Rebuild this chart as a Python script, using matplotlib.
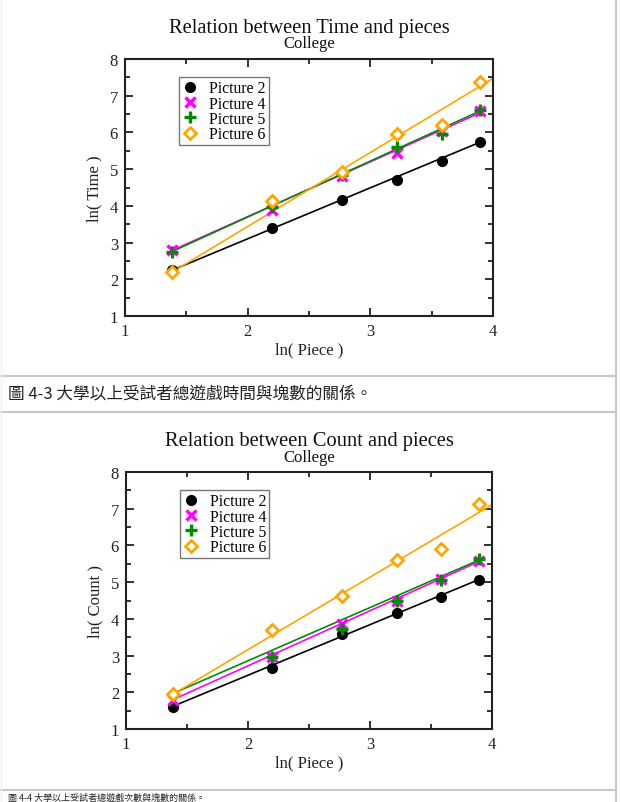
import numpy as np
import matplotlib
matplotlib.use("Agg")
import matplotlib.pyplot as plt
from matplotlib.lines import Line2D

# ---------------- data ----------------
pieces = [4, 9, 16, 25, 36, 49]
series_names = ["Picture 2", "Picture 4", "Picture 5", "Picture 6"]

time_p2 = [2.25, 3.41, 4.15, 4.71, 5.23, 5.73]
time_p4 = [2.80, 3.89, 4.80, 5.44, 6.03, 6.58]
time_p5 = [2.73, 3.98, 4.85, 5.61, 5.97, 6.60]
time_p6 = [2.20, 4.14, 4.93, 5.95, 6.20, 7.36]

count_p2 = [1.61, 2.67, 3.58, 4.15, 4.59, 5.07]
count_p4 = [1.80, 2.95, 3.87, 4.50, 5.09, 5.58]
count_p5 = [1.95, 2.95, 3.73, 4.50, 5.05, 5.62]
count_p6 = [1.95, 3.70, 4.62, 5.59, 5.91, 7.12]

# fitted lines (values read at start / end of each line)
fit_x_end = [np.log(49), np.log(49), np.log(49), 4.0]
time_fit_start = [2.25, 2.79, 2.76, 2.20]
time_fit_end = [5.73, 6.53, 6.58, 7.47]
count_fit_start = [1.62, 1.80, 1.97, 1.95]
count_fit_end = [5.07, 5.56, 5.60, 7.11]

x_ticks = [1, 2, 3, 4]
y_ticks = [1, 2, 3, 4, 5, 6, 7, 8]

titles = ["Relation between Time and pieces", "Relation between Count and pieces"]
subtitle = "College"
xlabel = "ln( Piece )"
ylabels = ["ln( Time )", "ln( Count )"]
caption1 = "圖 4-3 大學以上受試者總遊戲時間與塊數的關係。"
caption2 = "圖 4-4 大學以上受試者總遊戲次數與塊數的關係。"

# ---------------- style ----------------
W, H = 620, 803
SERIF = "Liberation Serif"
CJK = ["Noto Sans CJK TC", "Liberation Serif"]
colors = ["black", "#ff00ff", "#008c00", "#ffa500"]
markers = [dict(marker="o", ms=7, mfc="black", mec="black", mew=1),
           dict(marker="x", ms=7, mfc="none", mec="#ff00ff", mew=2.4),
           dict(marker="+", ms=8, mfc="none", mec="#008c00", mew=2.4),
           dict(marker="D", ms=6.5, mfc="white", mec="#ffa500", mew=2.0)]

fig = plt.figure(figsize=(W / 100, H / 100), dpi=100)


def fx(x):
    return x / W


def fy(y):
    return 1 - y / H


def make_axes(left, top, right, bottom):
    return fig.add_axes([fx(left), fy(bottom), (right - left) / W, (bottom - top) / H])


def draw_chart(ax, series, fit_start, fit_end, title, title_y, sub_y, ylabel):
    xs = np.log(pieces)
    for i, ys in enumerate(series):
        ax.plot([xs[0], fit_x_end[i]], [fit_start[i], fit_end[i]], color=colors[i],
                lw=1.2, zorder=2, solid_capstyle="butt")
    handles = []
    for i, ys in enumerate(series):
        ax.plot(xs, ys, ls="none", zorder=3 + i, **markers[i])
        handles.append(Line2D([], [], ls="none", **markers[i]))
    ax.set_xlim(1, 4)
    ax.set_ylim(1, 8)
    ax.set_xticks(x_ticks)
    ax.set_yticks(y_ticks)
    ax.set_xticks(np.arange(1.5, 4, 1.0), minor=True)
    ax.set_yticks(np.arange(1.5, 8, 1.0), minor=True)
    ax.tick_params(which="both", direction="in", top=True, right=True, width=1.3,
                   labelsize=12, pad=5, colors="#222222")
    ax.tick_params(which="major", length=6)
    ax.tick_params(which="minor", length=3.5)
    for lab in ax.get_xticklabels() + ax.get_yticklabels():
        lab.set_fontfamily(SERIF)
    for s in ax.spines.values():
        s.set_linewidth(1.5)
        s.set_color("#222222")
    ax.set_xlabel(xlabel, fontfamily=SERIF, fontsize=12, labelpad=2, color="#222222")
    ax.set_ylabel(ylabel, fontfamily=SERIF, fontsize=12, labelpad=5, color="#222222")
    leg = ax.legend(handles, series_names, loc="upper left", bbox_to_anchor=(0.147, 0.93),
                    prop={"family": SERIF, "size": 11.3}, frameon=True, fancybox=False,
                    handlelength=1.0, handletextpad=0.7, labelspacing=-0.04,
                    borderpad=0.2, borderaxespad=0, numpoints=1)
    leg.get_frame().set_edgecolor("#555555")
    leg.get_frame().set_linewidth(1.0)
    pos = ax.get_position()
    fig.text(0.5 * (pos.x0 + pos.x1), fy(title_y), title,
             ha="center", va="center", fontfamily=SERIF, fontsize=14.8, color="#111111")
    fig.text(0.5 * (pos.x0 + pos.x1), fy(sub_y), subtitle, ha="center", va="center",
             fontfamily=SERIF, fontsize=12, color="#111111")


# chart 1
ax1 = make_axes(125, 60, 493, 317)
draw_chart(ax1, [time_p2, time_p4, time_p5, time_p6], time_fit_start, time_fit_end,
           titles[0], 28, 44, ylabels[0])

# chart 2
ax2 = make_axes(126, 473, 492, 730)
draw_chart(ax2, [count_p2, count_p4, count_p5, count_p6], count_fit_start, count_fit_end,
           titles[1], 442, 458, ylabels[1])

# captions
fig.text(fx(8), fy(395), caption1, ha="left", va="center", fontfamily=CJK,
         fontsize=12, color="#222222")
fig.text(fx(8), fy(802.5), caption2, ha="left", va="bottom", fontfamily=CJK,
         fontsize=6.5, color="#222222")

# table borders of the page
bc = "#c8c8c8"
for yy in [377, 413, 791]:
    fig.add_artist(Line2D([0, fx(616)], [fy(yy), fy(yy)], color=bc, lw=1.5,
                          transform=fig.transFigure))
fig.add_artist(Line2D([fx(616), fx(616)], [0, 1], color=bc, lw=1.5,
                      transform=fig.transFigure))
fig.add_artist(Line2D([fx(0.5), fx(0.5)], [0, 1], color="#eeeeee", lw=1.0,
                      transform=fig.transFigure))

fig.savefig("out.png", dpi=100)
